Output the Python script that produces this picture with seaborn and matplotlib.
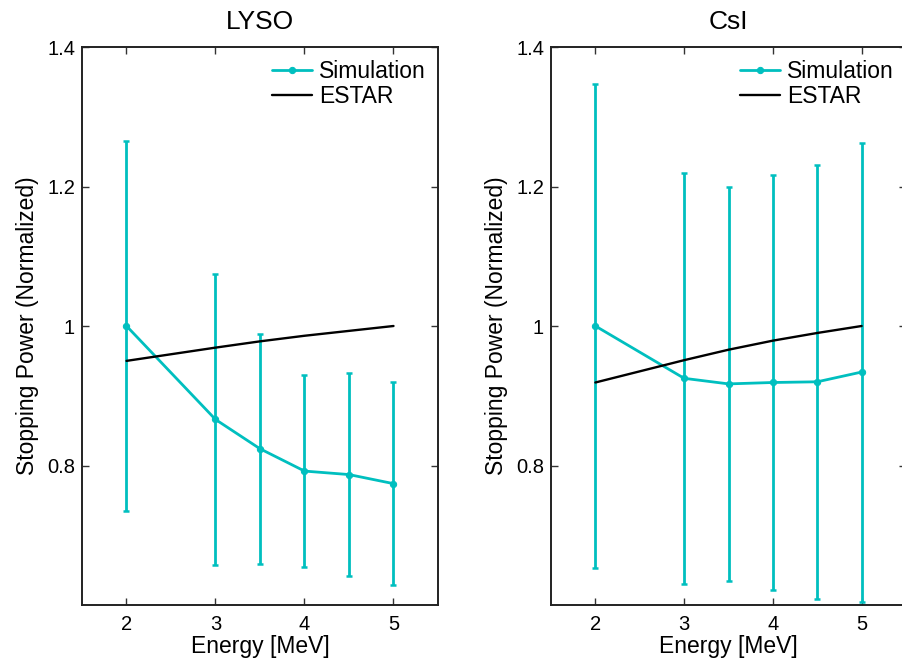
import matplotlib
matplotlib.use("Agg")
import matplotlib.pyplot as plt
import seaborn as sns
import pandas as pd
import numpy as np

energy = [2, 3, 3.5, 4, 4.5, 5]

lyso_sim = [1.000, 0.866, 0.824, 0.792, 0.787, 0.774]
lyso_err = [0.265, 0.208, 0.165, 0.138, 0.146, 0.146]
lyso_estar = [0.950, 0.969, 0.978, 0.986, 0.993, 1.000]

csi_sim = [1.000, 0.925, 0.917, 0.919, 0.920, 0.934]
csi_err = [0.347, 0.295, 0.282, 0.297, 0.311, 0.329]
csi_estar = [0.919, 0.951, 0.966, 0.979, 0.990, 1.000]

titles = ["LYSO", "CsI"]
xticks = [2, 3, 4, 5]
yticks = [0.8, 1.0, 1.2, 1.4]
ytick_labels = ["0.8", "1", "1.2", "1.4"]

sns.set_style("ticks")
plt.rcParams["font.family"] = ["Liberation Sans", "DejaVu Sans"]
plt.rcParams["text.color"] = "black"
plt.rcParams["axes.labelcolor"] = "black"
plt.rcParams["xtick.color"] = "black"
plt.rcParams["ytick.color"] = "black"

CYAN = "#00BFBF"

fig = plt.figure(figsize=(9.03, 6.63), dpi=100)
positions = [
    [82 / 903, 1 - 605 / 663, (438 - 82) / 903, (605 - 47) / 663],
    [551 / 903, 1 - 605 / 663, (906 - 551) / 903, (605 - 47) / 663],
]

datasets = [(lyso_sim, lyso_err, lyso_estar), (csi_sim, csi_err, csi_estar)]

for pos, title, (sim, err, estar) in zip(positions, titles, datasets):
    ax = fig.add_axes(pos)
    df = pd.DataFrame({"Energy": energy, "Simulation": sim, "ESTAR": estar})
    ax.errorbar(energy, sim, yerr=err, fmt="none", ecolor=CYAN,
                elinewidth=2.0, capsize=2.2, capthick=1.8, zorder=2)
    sns.lineplot(data=df, x="Energy", y="Simulation", ax=ax, color=CYAN,
                 linewidth=2.0, marker="o", markersize=4.5,
                 markeredgecolor=CYAN, label="Simulation", zorder=3)
    sns.lineplot(data=df, x="Energy", y="ESTAR", ax=ax, color="black",
                 linewidth=1.7, label="ESTAR", zorder=4)
    ax.set_xlim(1.5, 5.5)
    ax.set_ylim(0.6, 1.4)
    ax.set_xticks(xticks)
    ax.set_xticklabels([str(t) for t in xticks])
    ax.set_yticks(yticks)
    ax.set_yticklabels(ytick_labels)
    ax.tick_params(direction="in", length=5, width=1.0, color="#333333",
                   labelcolor="black", top=True, right=True, labelsize=14.5, pad=5)
    ax.tick_params(axis="x", pad=7)
    for s in ax.spines.values():
        s.set_visible(True)
        s.set_linewidth(1.4)
        s.set_color("#222222")
    ax.set_xlabel("Energy [MeV]", fontsize=16.5, labelpad=1, color="black")
    ax.set_ylabel("Stopping Power (Normalized)", fontsize=16.5, labelpad=6, color="black")
    ax.set_title(title, fontsize=19, pad=13, color="black")
    ax.grid(False)
    leg = ax.legend(loc="upper right", frameon=False, fontsize=16.5,
                    handlelength=1.75, handletextpad=0.3, labelspacing=0.12,
                    borderaxespad=0.25, borderpad=0.3)
    for t in leg.get_texts():
        t.set_color("black")

fig.savefig("out.png", dpi=100)
